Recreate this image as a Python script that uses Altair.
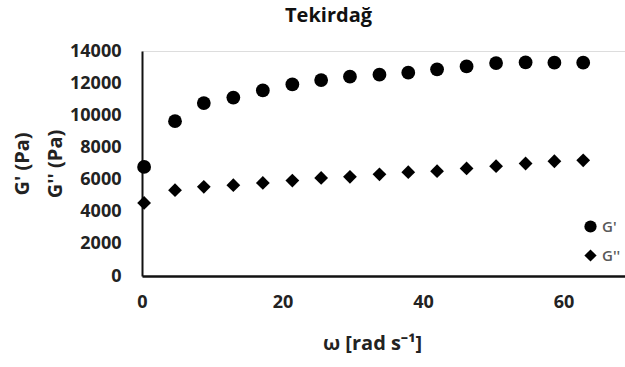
import altair as alt
import pandas as pd

# Angular frequency (rad/s) and moduli (Pa) for the Tekirdağ sample
omega = [0.3, 4.7, 8.8, 13.0, 17.2, 21.4, 25.5, 29.6, 33.8, 37.9, 42.0, 46.2, 50.4, 54.6, 58.7, 62.8]
g_storage = [6790, 9630, 10760, 11100, 11550, 11920, 12190, 12400, 12530, 12650, 12860, 13040, 13250, 13290, 13270, 13270]
g_loss = [4550, 5340, 5550, 5650, 5790, 5940, 6100, 6170, 6330, 6460, 6520, 6690, 6830, 7000, 7140, 7200]
series_names = ["G'", "G''"]
x_ticks = [0, 20, 40, 60]
y_ticks = [0, 2000, 4000, 6000, 8000, 10000, 12000, 14000]

df = pd.DataFrame({
    "omega": omega + omega,
    "modulus": g_storage + g_loss,
    "series": [series_names[0]] * len(omega) + [series_names[1]] * len(omega),
})

FONT = "Open Sans"
PLOT_W, PLOT_H = 483, 225

chart = (
    alt.Chart(df)
    .mark_point(filled=True, opacity=1, size=190, color="black", strokeWidth=0)
    .encode(
        x=alt.X(
            "omega:Q",
            scale=alt.Scale(domain=[0, 68.75], nice=False),
            axis=alt.Axis(
                values=x_ticks, grid=False, ticks=False, format="d",
                domainColor="#111111", domainWidth=2.5,
                labelFont=FONT, labelFontSize=18, labelFontWeight="bold",
                labelColor="#222222", labelPadding=17, labelFlush=False,
                title="ω [rad s⁻¹]", titleFont=FONT, titleFontSize=20,
                titleFontWeight="bold", titleColor="#222222",
                titleX=230, titleY=67, titleAlign="center", titleBaseline="middle",
            ),
        ),
        y=alt.Y(
            "modulus:Q",
            scale=alt.Scale(domain=[0, 14000], nice=False),
            axis=alt.Axis(
                values=y_ticks, grid=False, ticks=False, format="d",
                domainColor="#111111", domainWidth=2,
                labelFont=FONT, labelFontSize=18, labelFontWeight="bold",
                labelColor="#222222", labelPadding=21, labelFlush=False,
                title=["G' (Pa)", "G'' (Pa)"], titleFont=FONT, titleFontSize=20,
                titleFontWeight="bold", titleColor="#222222",
                titleAngle=-90, titleAlign="center", titleBaseline="middle",
                titleLineHeight=33, titleX=-120, titleY=PLOT_H / 2,
            ),
        ),
        shape=alt.Shape(
            "series:N",
            scale=alt.Scale(domain=series_names, range=["circle", "diamond"]),
            legend=alt.Legend(
                title=None, orient="none", legendX=441, legendY=168,
                symbolSize=150, symbolFillColor="black", symbolStrokeWidth=0,
                labelFont=FONT, labelFontSize=15, labelFontWeight=600,
                labelColor="#595959", rowPadding=13, labelOffset=4,
            ),
        ),
    )
    .properties(
        width=PLOT_W,
        height=PLOT_H,
        autosize="none",
        padding={"left": 142, "top": 51, "right": 0, "bottom": 91},
        title=alt.Title(
            "Tekirdağ", font=FONT, fontSize=20, fontWeight="bold",
            color="#111111", anchor="middle", dx=-55, dy=28, offset=24, baseline="bottom",
        ),
    )
    .configure_view(stroke=None)
    .configure(background="white")
)

chart.save("out.html", embed_options={"renderer": "svg", "actions": False})
